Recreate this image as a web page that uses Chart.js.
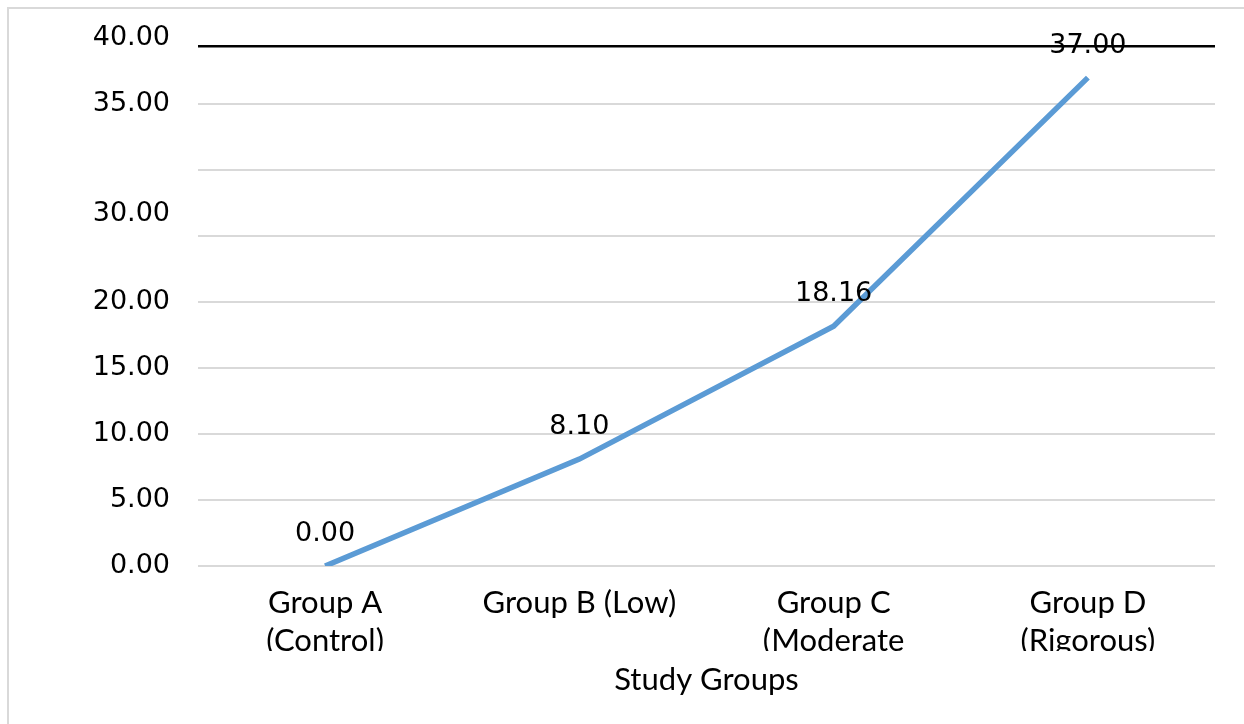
<!DOCTYPE html>
<html>
<head>
<meta charset="utf-8">
<script src="https://cdn.jsdelivr.net/npm/chart.js@4.4.1/dist/chart.umd.min.js"></script>
<style>
  html, body { margin: 0; padding: 0; background: #fff; width: 1244px; height: 724px; overflow: hidden; }
  #frame { position: absolute; left: 7px; top: 7px; right: 0; bottom: 0;
           border-left: 2px solid #d9d9d9; border-top: 2px solid #d9d9d9; }
  #chart { position: absolute; left: 0; top: 0; }
</style>
</head>
<body>
<div id="frame"></div>
<canvas id="chart" width="1244" height="724"></canvas>
<script>
// Study groups (x categories) and the measured value per group
const groups = [
  ['Group A', '(Control)'],
  ['Group B (Low)'],
  ['Group C', '(Moderate'],
  ['Group D', '(Rigorous)']
];
const improvement = [0.00, 8.10, 18.16, 37.00];

// Y axis: light gridlines, the tick labels with the value each one sits at, and the dark top rule
const gridValues = [0, 5, 10, 15, 20, 25, 30, 35];
const yLabelValues = [0, 5, 10, 15, 20, 26.7, 35, 40];
const yLabelTexts = ['0.00', '5.00', '10.00', '15.00', '20.00', '30.00', '35.00', '40.00'];
const topRuleValue = 39.4;
const xAxisTitle = 'Study Groups';

const tickValues = Array.from(new Set([...gridValues, ...yLabelValues, topRuleValue])).sort((a, b) => a - b);

// Value labels written above each point of the line
const pointLabels = {
  id: 'pointLabels',
  afterDatasetsDraw(chart) {
    const { ctx } = chart;
    const meta = chart.getDatasetMeta(0);
    ctx.save();
    ctx.font = '27px "DejaVu Sans"';
    ctx.fillStyle = '#000';
    ctx.textAlign = 'center';
    ctx.textBaseline = 'middle';
    meta.data.forEach((pt, i) => {
      ctx.fillText(improvement[i].toFixed(2), pt.x, pt.y - 32);
    });
    ctx.restore();
  }
};

// Category labels are cut off at the bottom of their box
const labelBoxClip = {
  id: 'labelBoxClip',
  afterDraw(chart) {
    const { ctx, chartArea } = chart;
    ctx.save();
    ctx.fillStyle = '#fff';
    ctx.fillRect(chartArea.left - 40, 651, chartArea.right - chartArea.left + 60, 12);
    ctx.restore();
  }
};

new Chart(document.getElementById('chart'), {
  type: 'line',
  data: {
    labels: groups,
    datasets: [{
      data: improvement,
      borderColor: '#5b9bd5',
      borderWidth: 5.5,
      pointRadius: 0,
      pointHoverRadius: 0,
      tension: 0,
      fill: false
    }]
  },
  options: {
    responsive: false,
    animation: false,
    events: [],
    layout: { padding: { top: 38, right: 29, bottom: 0, left: 0 } },
    plugins: { legend: { display: false }, tooltip: { enabled: false } },
    scales: {
      x: {
        type: 'category',
        offset: true,
        grid: { display: false, drawTicks: false },
        border: { display: false },
        ticks: {
          color: '#000',
          font: { family: 'Lato', size: 31, lineHeight: 1.23 },
          padding: 18,
          maxRotation: 0,
          autoSkip: false
        },
        title: {
          display: true,
          text: xAxisTitle,
          color: '#000',
          font: { family: 'Lato', size: 31, lineHeight: 1.2 },
          padding: { top: 0, bottom: 25 }
        },
        afterFit(scale) { scale.height = 158; }
      },
      y: {
        type: 'linear',
        min: 0,
        max: 40,
        afterBuildTicks(scale) {
          scale.ticks = tickValues.map(v => ({ value: v }));
        },
        afterFit(scale) {
          scale.width = 198;
          scale.paddingTop = 0;
          scale.paddingBottom = 0;
        },
        border: { display: false },
        grid: {
          drawTicks: false,
          color(ctx) {
            const v = ctx.tick ? ctx.tick.value : null;
            if (v === topRuleValue) return '#000';
            if (gridValues.includes(v)) return '#d9d9d9';
            return 'rgba(0,0,0,0)';
          },
          lineWidth(ctx) {
            const v = ctx.tick ? ctx.tick.value : null;
            return v === topRuleValue ? 2.5 : 2;
          }
        },
        ticks: {
          autoSkip: false,
          color: '#000',
          padding: 28,
          font: { family: 'DejaVu Sans', size: 27 },
          callback(value) {
            const i = yLabelValues.indexOf(value);
            return i >= 0 ? yLabelTexts[i] : '';
          }
        }
      }
    }
  },
  plugins: [pointLabels, labelBoxClip]
});
</script>
</body>
</html>
